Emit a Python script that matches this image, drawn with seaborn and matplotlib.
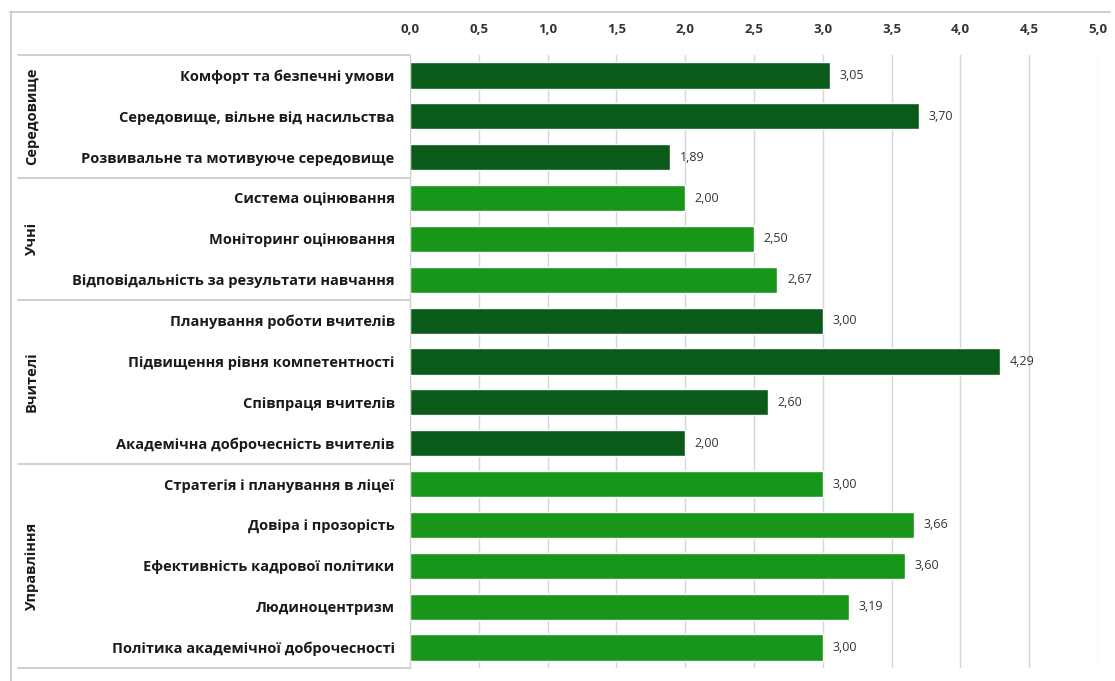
import pandas as pd
import seaborn as sns
import matplotlib.pyplot as plt
from matplotlib.lines import Line2D

# Data
groups = ["Середовище", "Учні", "Вчителі", "Управління"]
group_sizes = [3, 3, 4, 5]
categories = [
    "Комфорт та безпечні умови",
    "Середовище, вільне від насильства",
    "Розвивальне та мотивуюче середовище",
    "Система оцінювання",
    "Моніторинг оцінювання",
    "Відповідальність за результати навчання",
    "Планування роботи вчителів",
    "Підвищення рівня компетентності",
    "Співпраця вчителів",
    "Академічна доброчесність вчителів",
    "Стратегія і планування в ліцеї",
    "Довіра і прозорість",
    "Ефективність кадрової політики",
    "Людиноцентризм",
    "Політика академічної доброчесності",
]
values = [3.05, 3.70, 1.89, 2.00, 2.50, 2.67, 3.00, 4.29, 2.60, 2.00,
          3.00, 3.66, 3.60, 3.19, 3.00]
xticks = [0.0, 0.5, 1.0, 1.5, 2.0, 2.5, 3.0, 3.5, 4.0, 4.5, 5.0]

dark = "#0a5a1a"
light = "#17961a"
group_colors = {"Середовище": dark, "Учні": light, "Вчителі": dark, "Управління": light}

group_col = []
for g, n in zip(groups, group_sizes):
    group_col += [g] * n
df = pd.DataFrame({"category": categories, "value": values, "group": group_col})

sns.set_style("white")
plt.rcParams["font.family"] = ["Open Sans", "DejaVu Sans"]

fig = plt.figure(figsize=(11.15, 6.81), dpi=100)
ax = fig.add_axes([410 / 1115, 1 - 668 / 681, 688 / 1115, 613 / 681])

sns.barplot(data=df, x="value", y="category", hue="group", palette=group_colors,
            order=categories, dodge=False, width=0.64, legend=False, ax=ax,
            saturation=1)

ax.set_xlim(0, 5)
ax.set_ylim(len(categories) - 0.5, -0.5)
ax.set_xticks(xticks)
ax.set_xticklabels([f"{t:.1f}".replace(".", ",") for t in xticks],
                   fontsize=9.5, fontweight="bold", color="#333333")
ax.xaxis.tick_top()
ax.tick_params(axis="x", length=0, pad=14)
ax.set_yticks(range(len(categories)))
ax.set_yticklabels(categories, fontsize=10.5, fontweight="bold", color="#1a1a1a")
ax.tick_params(axis="y", length=0, pad=11)
ax.set_xlabel("")
ax.set_ylabel("")
ax.xaxis.grid(True, color="#d6d6d6", linewidth=1)
ax.set_axisbelow(True)
for s in ["top", "right", "bottom"]:
    ax.spines[s].set_visible(False)
ax.spines["left"].set_color("#d0d0d0")

# value labels
for i, v in enumerate(values):
    ax.text(v + 0.07, i, f"{v:.2f}".replace(".", ","), va="center", ha="left",
            fontsize=9, color="#333333")

# group separators and rotated group names
trans = ax.get_yaxis_transform()
left_x = -(410 - 18) / 688
start = 0
bounds = [-0.5]
for g, n in zip(groups, group_sizes):
    mid = start + (n - 1) / 2
    ax.text(-(410 - 32) / 688, mid, g, rotation=90, transform=trans, ha="center",
            va="center", fontsize=10.5, fontweight="bold", color="#1a1a1a")
    start += n
    bounds.append(start - 0.5)
for b in bounds:
    ax.plot([left_x, 0], [b, b], transform=trans, color="#c8c8c8",
            linewidth=1.2, clip_on=False)

# outer frame (top and left)
fig.add_artist(Line2D([10 / 1115, 1110 / 1115], [1 - 12 / 681, 1 - 12 / 681],
                      color="#c8c8c8", linewidth=1.2))
fig.add_artist(Line2D([11 / 1115, 11 / 1115], [1 - 12 / 681, 0],
                      color="#c8c8c8", linewidth=1.2))

fig.savefig("out.png", dpi=100)
